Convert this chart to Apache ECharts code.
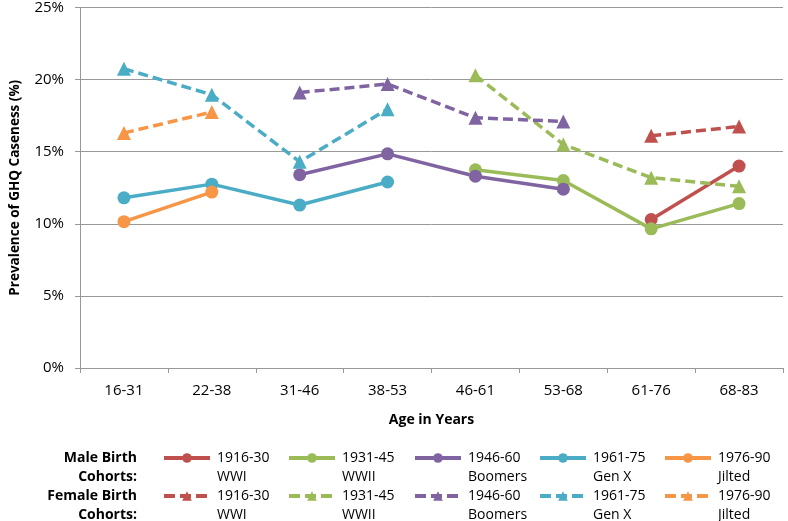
<!DOCTYPE html>
<html>
<head>
<meta charset="utf-8">
<script src="https://cdn.jsdelivr.net/npm/echarts@6/dist/echarts.min.js"></script>
<style>
html,body{margin:0;padding:0;background:#fff;}
#c{width:788px;height:521px;}
</style>
</head>
<body>
<div id="c"></div>
<script>
var categories = ['16-31','22-38','31-46','38-53','46-61','53-68','61-76','68-83'];
var yTicks = [0, 5, 10, 15, 20, 25];

var maleWWI     = [null, null, null, null, null, null, 10.3, 14.0];
var maleWWII    = [null, null, null, null, 13.75, 13.0, 9.65, 11.4];
var maleBoomers = [null, null, 13.4, 14.85, 13.3, 12.4, null, null];
var maleGenX    = [11.8, 12.75, 11.3, 12.9, null, null, null, null];
var maleJilted  = [10.15, 12.2, null, null, null, null, null, null];

var femaleWWI     = [null, null, null, null, null, null, 16.1, 16.75];
var femaleWWII    = [null, null, null, null, 20.3, 15.5, 13.2, 12.6];
var femaleBoomers = [null, null, 19.1, 19.7, 17.35, 17.1, null, null];
var femaleGenX    = [20.75, 18.95, 14.3, 17.95, null, null, null, null];
var femaleJilted  = [16.3, 17.75, null, null, null, null, null, null];

var cohortYears = ['1916-30','1931-45','1946-60','1961-75','1976-90'];
var cohortNames = ['WWI','WWII','Boomers','Gen X','Jilted'];
var colors = ['#C0504D','#9BBB59','#8064A2','#4BACC6','#F79646'];

var maleData = [maleWWI, maleWWII, maleBoomers, maleGenX, maleJilted];
var femaleData = [femaleWWI, femaleWWII, femaleBoomers, femaleGenX, femaleJilted];

var FONT = '"Open Sans", sans-serif';
var series = [];
var legends = [];
var legendX = [162, 287, 413, 538, 663];
var labelMap = {};

function addSeries(prefix, arr, dashed, topY) {
  for (var i = 0; i < 5; i++) {
    var name = prefix + ' ' + cohortYears[i];
    labelMap[name] = '\n' + cohortYears[i] + '\n' + cohortNames[i];
    series.push({
      name: name,
      type: 'line',
      data: arr[i],
      symbol: dashed ? 'triangle' : 'circle',
      symbolSize: dashed ? 14 : 13,
      showSymbol: true,
      connectNulls: false,
      lineStyle: { color: colors[i], width: 3.5, type: dashed ? [10, 5] : 'solid' },
      itemStyle: { color: colors[i] },
      emphasis: { disabled: true },
      z: dashed ? 3 : 2
    });
    legends.push({
      data: [name],
      left: legendX[i],
      top: topY,
      orient: 'horizontal',
      itemWidth: 46,
      itemHeight: 12,
      itemGap: 0,
      padding: 0,
      selectedMode: false,
      lineStyle: { width: 4, type: dashed ? [11, 5] : 'solid' },
      formatter: function (n) { return labelMap[n]; },
      textStyle: { fontFamily: FONT, fontSize: 14, color: '#000', lineHeight: 19, padding: [0, 0, 0, 2] }
    });
  }
}
addSeries('Male', maleData, false, 458 - 28.5);
addSeries('Female', femaleData, true, 496 - 28.5);

var titleFont = 'bold 14px ' + FONT;
var chart = echarts.init(document.getElementById('c'), null, { renderer: 'canvas' });
chart.setOption({
  animation: false,
  backgroundColor: '#fff',
  grid: { left: 70, right: 5, top: 6, height: 362, containLabel: false },
  legend: legends,
  xAxis: {
    type: 'category',
    data: categories,
    boundaryGap: true,
    name: 'Age in Years',
    nameLocation: 'middle',
    nameGap: 45,
    nameTextStyle: { fontFamily: FONT, fontSize: 14, fontWeight: 'bold', color: '#000' },
    axisLine: { lineStyle: { color: '#989898', width: 1 } },
    axisTick: { show: true, length: 5, lineStyle: { color: '#989898' } },
    axisLabel: { fontFamily: FONT, fontSize: 15, color: '#000', margin: 15 },
    splitLine: { show: false }
  },
  yAxis: {
    type: 'value',
    min: 0, max: 25, interval: 5,
    name: 'Prevalence of GHQ Caseness (%)',
    nameLocation: 'middle',
    nameGap: 58,
    nameRotate: 90,
    nameTextStyle: { fontFamily: FONT, fontSize: 13.5, fontWeight: 'bold', color: '#000' },
    axisLine: { show: true, lineStyle: { color: '#989898', width: 1 } },
    axisTick: { show: true, length: 5, lineStyle: { color: '#989898' } },
    axisLabel: { fontFamily: FONT, fontSize: 15, color: '#000', margin: 16,
      formatter: function (v) { return yTicks.indexOf(v) >= 0 ? v + '%' : ''; } },
    splitLine: { show: true, lineStyle: { color: '#989898', width: 1 } }
  },
  graphic: [
    { type: 'text', x: 137, y: 458, style: { text: 'Male Birth', fill: '#000', font: titleFont, align: 'right', verticalAlign: 'middle' } },
    { type: 'text', x: 137, y: 477, style: { text: 'Cohorts:', fill: '#000', font: titleFont, align: 'right', verticalAlign: 'middle' } },
    { type: 'text', x: 137, y: 496, style: { text: 'Female Birth', fill: '#000', font: titleFont, align: 'right', verticalAlign: 'middle' } },
    { type: 'text', x: 137, y: 515, style: { text: 'Cohorts:', fill: '#000', font: titleFont, align: 'right', verticalAlign: 'middle' } }
  ],
  series: series
});
</script>
</body>
</html>
